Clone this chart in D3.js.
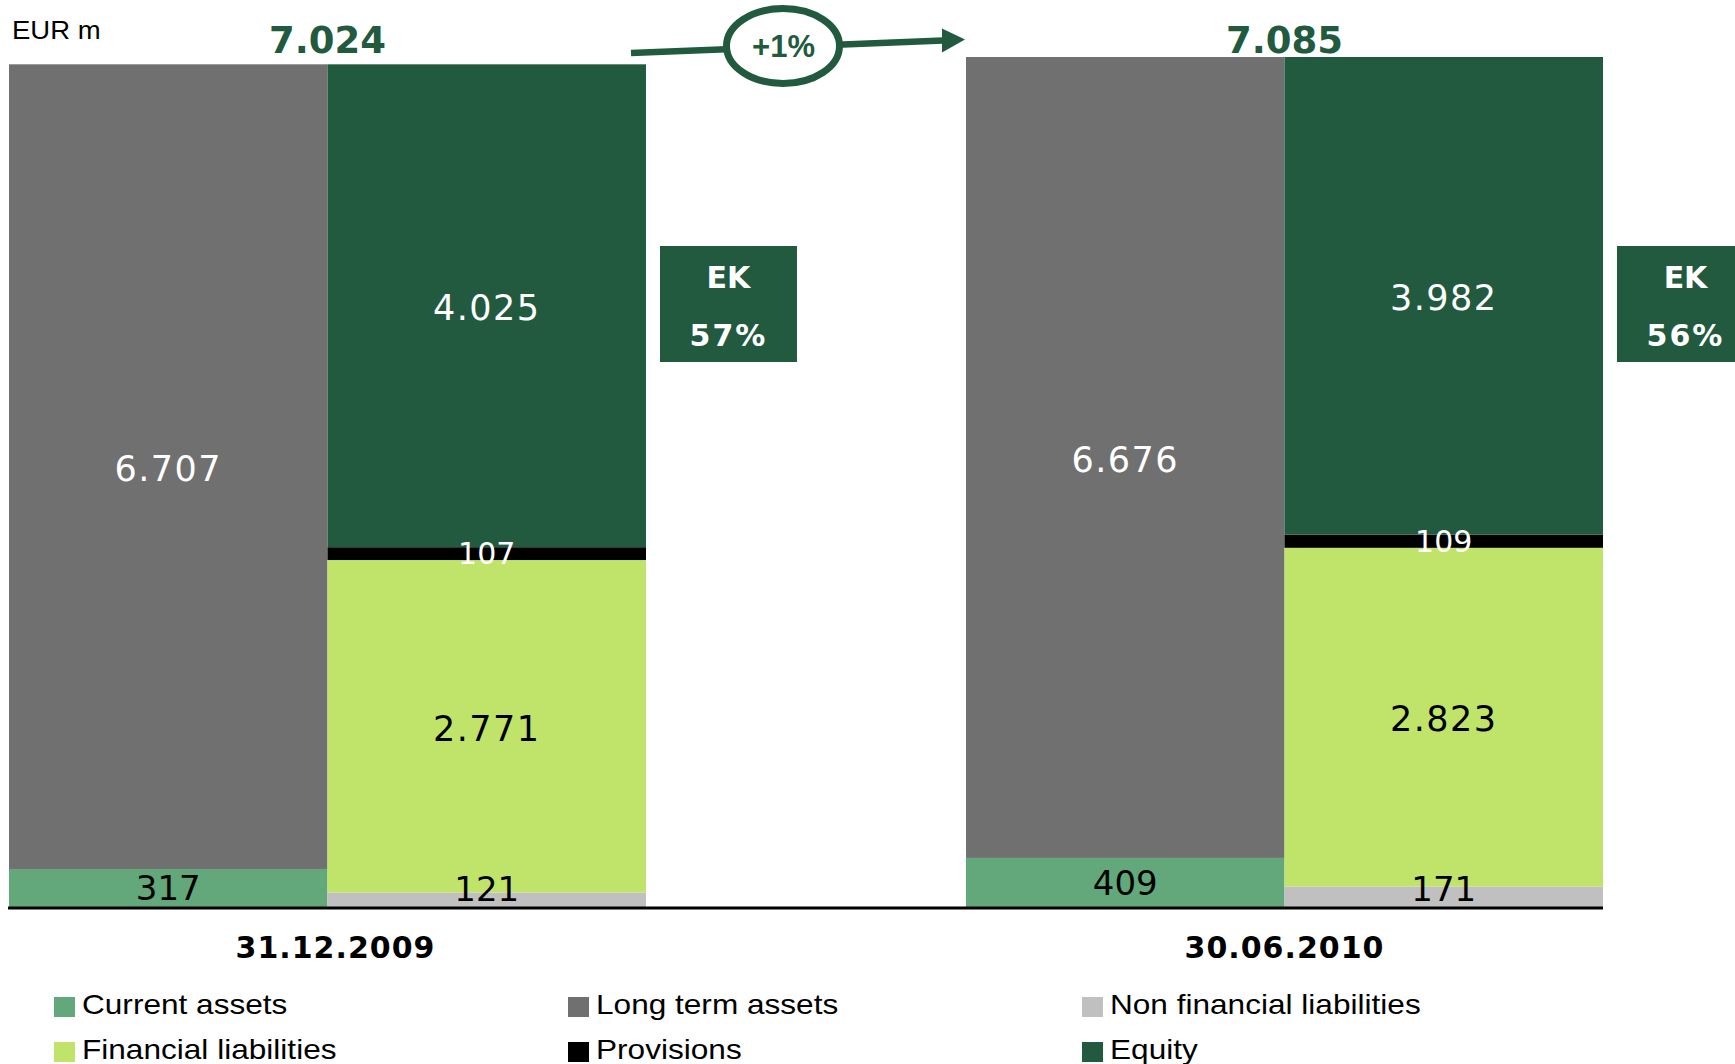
<!DOCTYPE html>
<html>
<head>
<meta charset="utf-8">
<script src="https://cdn.jsdelivr.net/npm/d3@7"></script>
<style>
  html, body { margin: 0; padding: 0; background: #fff; }
  svg { display: block; }
</style>
</head>
<body>
<svg id="chart" width="1735" height="1064"></svg>
<script>
// Balance sheet structure, EUR m
const categories = ["31.12.2009", "30.06.2010"];
const sides = ["assets", "liabilities"];

const currentAssets = [317, 409];
const longTermAssets = [6707, 6676];
const nonFinancialLiabilities = [121, 171];
const financialLiabilities = [2771, 2823];
const provisions = [107, 109];
const equity = [4025, 3982];

const seriesNames = ["Current assets", "Long term assets", "Non financial liabilities",
                     "Financial liabilities", "Provisions", "Equity"];
const legendOrder = ["Current assets", "Long term assets", "Non financial liabilities",
                     "Financial liabilities", "Provisions", "Equity"];

const GREEN = "#225a3f";
const colors = {
  "Current assets": "#62a87a",
  "Long term assets": "#6f706f",
  "Non financial liabilities": "#c0c0c0",
  "Financial liabilities": "#c0e46a",
  "Provisions": "#000000",
  "Equity": GREEN
};
const labelColors = {
  "Current assets": "#000", "Long term assets": "#fff", "Non financial liabilities": "#000",
  "Financial liabilities": "#000", "Provisions": "#fff", "Equity": "#fff"
};

const valuesBySeries = {
  "Current assets": currentAssets,
  "Long term assets": longTermAssets,
  "Non financial liabilities": nonFinancialLiabilities,
  "Financial liabilities": financialLiabilities,
  "Provisions": provisions,
  "Equity": equity
};
const stackKeys = {
  assets: ["Current assets", "Long term assets"],
  liabilities: ["Non financial liabilities", "Financial liabilities", "Provisions", "Equity"]
};

// German-style number format: 7.024
const de = d3.formatLocale({ decimal: ",", thousands: ".", grouping: [3], currency: ["", " €"] });
const fmt = de.format(",d");

const svg = d3.select("#chart");
const baseY = 907;

const totals = categories.map((c, i) => d3.sum(stackKeys.assets, k => valuesBySeries[k][i]));

const y = d3.scaleLinear().domain([0, d3.max(totals)]).range([baseY, 57]);
const x = d3.scaleBand().domain(categories).range([9, 1603]).paddingInner(0.3344).paddingOuter(0);
const xi = d3.scaleBand().domain(sides).range([0, x.bandwidth()]).padding(0);

// rows for stacking: one per category
const rows = categories.map((c, i) => {
  const r = { category: c };
  seriesNames.forEach(k => { r[k] = valuesBySeries[k][i]; });
  return r;
});

const labelLayer = [];
sides.forEach(side => {
  const stack = d3.stack().keys(stackKeys[side]);
  const layers = stack(rows);
  layers.forEach(layer => {
    layer.forEach(d => {
      const c = d.data.category;
      const x0 = x(c) + xi(side);
      svg.append("rect")
        .attr("x", x0)
        .attr("y", y(d[1]))
        .attr("width", xi.bandwidth())
        .attr("height", y(d[0]) - y(d[1]))
        .attr("fill", colors[layer.key]);
      labelLayer.push({ key: layer.key, x: x0 + xi.bandwidth() / 2,
                        cy: Math.min((y(d[0]) + y(d[1])) / 2, baseY - 18),
                        value: d[1] - d[0],
                        big: (y(d[0]) - y(d[1])) > 100 });
    });
  });
});

// baseline
svg.append("line")
  .attr("x1", 8).attr("x2", x.range()[1])
  .attr("y1", baseY + 1).attr("y2", baseY + 1)
  .attr("stroke", "#000").attr("stroke-width", 3);

// segment value labels
labelLayer.forEach(l => {
  const fs = l.key === "Provisions" ? 30 : (l.big ? 35 : 34);
  svg.append("text")
    .attr("x", l.x)
    .attr("y", l.cy + (l.big ? 0.41 : 0.36) * fs)
    .attr("text-anchor", "middle")
    .attr("font-family", "DejaVu Sans, Verdana, sans-serif")
    .attr("font-size", fs)
    .attr("letter-spacing", l.big ? 1.5 : 0)
    .attr("fill", labelColors[l.key])
    .text(fmt(l.value));
});

// totals above each pair
categories.forEach((c, i) => {
  svg.append("text")
    .attr("x", x(c) + x.bandwidth() / 2)
    .attr("y", 53)
    .attr("text-anchor", "middle")
    .attr("font-family", "DejaVu Sans, Verdana, sans-serif")
    .attr("font-weight", "bold")
    .attr("font-size", 37)
    .attr("fill", GREEN)
    .text(fmt(totals[i]));

  // category label
  svg.append("text")
    .attr("x", x(c) + x.bandwidth() / 2 + (i === 0 ? 8 : 0))
    .attr("y", 958)
    .attr("text-anchor", "middle")
    .attr("font-family", "DejaVu Sans, Verdana, sans-serif")
    .attr("font-weight", "bold")
    .attr("font-size", 30)
    .attr("letter-spacing", 1)
    .attr("fill", "#000")
    .text(c);

  // equity ratio box
  const eqShare = equity[i] / totals[i];
  const bx = x(c) + x.bandwidth() + 14;
  const g = svg.append("g");
  g.append("rect")
    .attr("x", bx).attr("y", 246).attr("width", 137).attr("height", 116)
    .attr("fill", GREEN);
  g.append("text")
    .attr("x", bx + 68.5).attr("y", 288)
    .attr("text-anchor", "middle")
    .attr("font-family", "DejaVu Sans, Verdana, sans-serif")
    .attr("font-weight", "bold").attr("font-size", 30)
    .attr("fill", "#fff")
    .text("EK");
  g.append("text")
    .attr("x", bx + 68.5).attr("y", 346)
    .attr("text-anchor", "middle")
    .attr("font-family", "DejaVu Sans, Verdana, sans-serif")
    .attr("font-weight", "bold").attr("font-size", 30)
    .attr("letter-spacing", 2)
    .attr("fill", "#fff")
    .text(d3.format(".0%")(eqShare));
});

// growth arrow between the two dates
const growth = totals[1] / totals[0] - 1;
const ax0 = x(categories[0]) + x.bandwidth() - 15, ay0 = 53;
const ax1 = x(categories[1]) - 1, ay1 = 39.5;
const slope = (ay1 - ay0) / (ax1 - ax0);
const headLen = 23, headHalf = 12;
const baseX = ax1 - headLen, baseYa = ay0 + slope * (baseX - ax0);
svg.append("line")
  .attr("x1", ax0).attr("y1", ay0).attr("x2", baseX + 1).attr("y2", baseYa)
  .attr("stroke", GREEN).attr("stroke-width", 6.5);
svg.append("path")
  .attr("d", `M${ax1},${ay1} L${baseX},${baseYa - headHalf} L${baseX},${baseYa + headHalf} Z`)
  .attr("fill", GREEN);
svg.append("ellipse")
  .attr("cx", 783).attr("cy", 46).attr("rx", 56.5).attr("ry", 37.5)
  .attr("fill", "#fff").attr("stroke", GREEN).attr("stroke-width", 7);
svg.append("text")
  .attr("x", 783.5).attr("y", 57)
  .attr("text-anchor", "middle")
  .attr("font-family", "Liberation Sans, Arial, sans-serif")
  .attr("font-weight", "bold").attr("font-size", 31)
  .attr("fill", GREEN)
  .text((growth >= 0 ? "+" : "") + d3.format(".0%")(growth));

// unit label
svg.append("text")
  .attr("transform", "translate(12,39) scale(1.1,1)")
  .attr("font-family", "Liberation Sans, Arial, sans-serif")
  .attr("font-size", 25)
  .attr("fill", "#000")
  .text("EUR m");

// legend: three columns, two rows
const legendCols = [54, 568, 1082];
const legendRows = [997, 1042];
legendOrder.forEach((k, i) => {
  const col = i % 3, row = Math.floor(i / 3);
  const lx = legendCols[col], ly = legendRows[row];
  svg.append("rect")
    .attr("x", lx).attr("y", ly).attr("width", 21).attr("height", 20)
    .attr("fill", colors[k]);
  svg.append("text")
    .attr("transform", `translate(${lx + 28},${ly + 17}) scale(1.17,1)`)
    .attr("font-family", "Liberation Sans, Arial, sans-serif")
    .attr("font-size", 27)
    .attr("fill", "#000")
    .text(k);
});
</script>
</body>
</html>
